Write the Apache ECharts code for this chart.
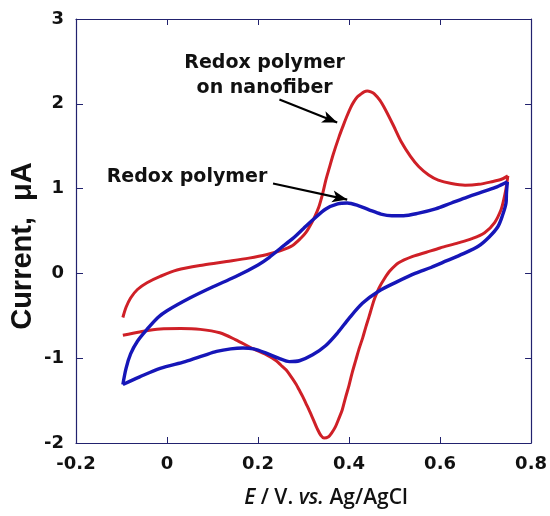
<!DOCTYPE html>
<html>
<head>
<meta charset="utf-8">
<script src="https://cdn.jsdelivr.net/npm/echarts@6/dist/echarts.min.js"></script>
<style>html,body{margin:0;padding:0;background:#fff}#c{width:550px;height:516px}</style>
</head>
<body>
<div id="c"></div>
<script>
// ---- Data ----
var xTickLabels = ['-0.2', '0', '0.2', '0.4', '0.6', '0.8'];
var yTickLabels = ['-2', '-1', '0', '1', '2', '3'];

// Redox polymer on nanofiber (red): anodic scan then cathodic scan
var nanofiberForward = [
  [-0.097,-0.52],[-0.090,-0.40],[-0.080,-0.29],[-0.065,-0.19],[-0.044,-0.11],[-0.015,-0.035],
  [0.022,0.04],[0.080,0.10],[0.131,0.14],[0.180,0.18],[0.218,0.22],[0.250,0.27],[0.276,0.33],
  [0.295,0.42],[0.305,0.48],[0.313,0.55],[0.323,0.65],[0.334,0.79],[0.342,0.94],[0.349,1.10],
  [0.357,1.25],[0.365,1.40],[0.378,1.61],[0.387,1.74],[0.395,1.85],[0.403,1.95],[0.410,2.02],
  [0.418,2.08],[0.425,2.11],[0.433,2.14],[0.440,2.15],[0.448,2.14],[0.455,2.12],[0.468,2.04],
  [0.480,1.93],[0.497,1.75],[0.516,1.54],[0.535,1.38],[0.553,1.26],[0.575,1.16],[0.596,1.10],
  [0.625,1.06],[0.655,1.04],[0.685,1.05],[0.713,1.08],[0.735,1.11],[0.749,1.15]
];
var nanofiberReverse = [
  [0.749,1.15],[0.745,1.00],[0.740,0.87],[0.734,0.75],[0.720,0.60],[0.698,0.48],[0.670,0.41],
  [0.640,0.36],[0.600,0.30],[0.570,0.25],[0.540,0.20],[0.509,0.125],[0.490,0.03],[0.478,-0.06],
  [0.466,-0.17],[0.456,-0.30],[0.450,-0.40],[0.444,-0.51],[0.437,-0.63],[0.430,-0.76],
  [0.422,-0.89],[0.415,-1.02],[0.407,-1.17],[0.400,-1.32],[0.392,-1.47],[0.385,-1.61],
  [0.377,-1.72],[0.370,-1.81],[0.362,-1.88],[0.355,-1.925],[0.345,-1.94],[0.338,-1.91],
  [0.330,-1.83],[0.322,-1.73],[0.313,-1.62],[0.305,-1.53],[0.298,-1.45],[0.290,-1.37],
  [0.284,-1.31],[0.273,-1.22],[0.262,-1.14],[0.250,-1.08],[0.240,-1.03],[0.215,-0.95],
  [0.190,-0.89],[0.150,-0.78],[0.116,-0.70],[0.073,-0.66],[0.030,-0.65],[-0.015,-0.655],
  [-0.060,-0.69],[-0.097,-0.73]
];

// Redox polymer (blue)
var polymerForward = [
  [-0.097,-1.31],[-0.090,-1.12],[-0.080,-0.95],[-0.065,-0.80],[-0.044,-0.66],[-0.020,-0.52],
  [0.000,-0.44],[0.050,-0.29],[0.100,-0.16],[0.150,-0.04],[0.200,0.10],[0.225,0.19],
  [0.250,0.30],[0.276,0.41],[0.300,0.53],[0.320,0.63],[0.349,0.76],
  [0.375,0.82],[0.396,0.83],[0.420,0.80],[0.444,0.75],[0.470,0.70],[0.494,0.68],[0.520,0.68],
  [0.553,0.71],[0.590,0.76],[0.625,0.83],[0.660,0.90],[0.698,0.97],[0.725,1.02],[0.748,1.08]
];
var polymerReverse = [
  [0.748,1.08],[0.746,0.95],[0.745,0.83],[0.737,0.68],[0.727,0.55],[0.708,0.43],[0.684,0.32],
  [0.650,0.23],[0.615,0.15],[0.580,0.07],[0.545,0.00],[0.505,-0.10],[0.465,-0.21],[0.430,-0.35],
  [0.400,-0.53],[0.375,-0.70],[0.349,-0.85],[0.320,-0.96],[0.291,-1.03],[0.269,-1.04],
  [0.245,-1.00],[0.218,-0.94],[0.190,-0.89],[0.167,-0.88],[0.140,-0.89],[0.109,-0.92],
  [0.080,-0.97],[0.040,-1.04],[-0.015,-1.12],[-0.060,-1.22],[-0.097,-1.31]
];

// annotation anchors (data coords)
var arrowNanofiber = [[0.247, 2.05], [0.374, 1.78]];
var arrowPolymer = [[0.233, 1.06], [0.396, 0.87]];
var labelNanofiberPos = [0.2145, 2.335];
var labelPolymerPos = [0.044, 1.139];
var labelNanofiber = 'Redox polymer\non nanofiber';
var labelPolymer = 'Redox polymer';
var yTitle = 'Current,  μA';
var xTitle = '{i|E} / V. {i|vs.} Ag/AgCl';

// ---- Chart ----
var RED = '#cf2027', BLUE = '#1616b8', AX = '#22226e';
var chart = echarts.init(document.getElementById('c'), null, {renderer: 'canvas'});

function xFmt(v){ return xTickLabels[Math.round((v + 0.2) / 0.2)]; }
function yFmt(v){ return yTickLabels[Math.round(v + 2)]; }

var tickFont = {fontFamily: 'DejaVu Sans', fontWeight: 'bold', fontSize: 18, color: '#111'};

function arrowLine(pts){
  return {
    silent: true, animation: false,
    symbol: ['none', 'arrow'], symbolSize: [9, 15],
    label: {show: false},
    lineStyle: {color: '#000', width: 2.2, type: 'solid'},
    data: [[{coord: pts[0]}, {coord: pts[1]}]]
  };
}

var SM = 0.3;
var option = {
  backgroundColor: '#fff',
  animation: false,
  grid: {left: 76, right: 18, top: 19, bottom: 73, containLabel: false},
  xAxis: [{
    type: 'value', min: -0.2, max: 0.8, interval: 0.2, position: 'bottom',
    axisLine: {show: true, onZero: false, lineStyle: {color: AX, width: 1.2}},
    axisTick: {show: true, inside: true, length: 6, lineStyle: {color: AX}},
    axisLabel: Object.assign({formatter: xFmt, margin: 12}, tickFont),
    splitLine: {show: false}
  }, {
    type: 'value', min: -0.2, max: 0.8, interval: 0.2, position: 'top',
    axisLine: {show: true, onZero: false, lineStyle: {color: AX, width: 1.2}},
    axisTick: {show: true, inside: true, length: 6, lineStyle: {color: AX}},
    axisLabel: {show: false}, splitLine: {show: false}
  }],
  yAxis: [{
    type: 'value', min: -2, max: 3, interval: 1, position: 'left',
    axisLine: {show: true, onZero: false, lineStyle: {color: AX, width: 1.2}},
    axisTick: {show: true, inside: true, length: 7, lineStyle: {color: AX}},
    axisLabel: Object.assign({formatter: yFmt, margin: 12}, tickFont),
    splitLine: {show: false}
  }, {
    type: 'value', min: -2, max: 3, interval: 1, position: 'right',
    axisLine: {show: true, onZero: false, lineStyle: {color: AX, width: 1.2}},
    axisTick: {show: true, inside: true, length: 6, lineStyle: {color: AX}},
    axisLabel: {show: false}, splitLine: {show: false}
  }],
  series: [
    {type: 'line', data: nanofiberForward, smooth: SM, showSymbol: false, xAxisIndex: 0, yAxisIndex: 0,
      lineStyle: {color: RED, width: 3}, itemStyle: {color: RED}, markLine: arrowLine(arrowNanofiber)},
    {type: 'line', data: nanofiberReverse, smooth: SM, showSymbol: false,
      lineStyle: {color: RED, width: 3}, itemStyle: {color: RED}},
    {type: 'line', data: polymerForward, smooth: SM, showSymbol: false,
      lineStyle: {color: BLUE, width: 3.4}, itemStyle: {color: BLUE}, markLine: arrowLine(arrowPolymer)},
    {type: 'line', data: polymerReverse, smooth: SM, showSymbol: false,
      lineStyle: {color: BLUE, width: 3.4}, itemStyle: {color: BLUE}}
  ]
};
chart.setOption(option);

var p1 = chart.convertToPixel({gridIndex: 0}, labelNanofiberPos);
var p2 = chart.convertToPixel({gridIndex: 0}, labelPolymerPos);
chart.setOption({
  graphic: [
    {type: 'text', x: p1[0], y: p1[1], silent: true,
      style: {text: labelNanofiber, align: 'center', verticalAlign: 'middle', lineHeight: 25,
        font: 'bold 19px "DejaVu Sans"', fill: '#111'}},
    {type: 'text', x: p2[0], y: p2[1], silent: true,
      style: {text: labelPolymer, align: 'center', verticalAlign: 'middle',
        font: 'bold 19px "DejaVu Sans"', fill: '#111'}},
    {type: 'text', x: 22.5, y: 246, rotation: Math.PI / 2, silent: true,
      style: {text: yTitle, align: 'center', verticalAlign: 'middle',
        font: 'bold 29px "Liberation Sans"', fill: '#111'}},
    {type: 'text', x: 326, y: 498, silent: true,
      style: {text: xTitle, align: 'center', verticalAlign: 'middle',
        font: '600 21px "Open Sans"', fill: '#111',
        rich: {i: {font: 'italic 600 21px "Open Sans"', fill: '#111'}}}}
  ]
});
</script>
</body>
</html>
